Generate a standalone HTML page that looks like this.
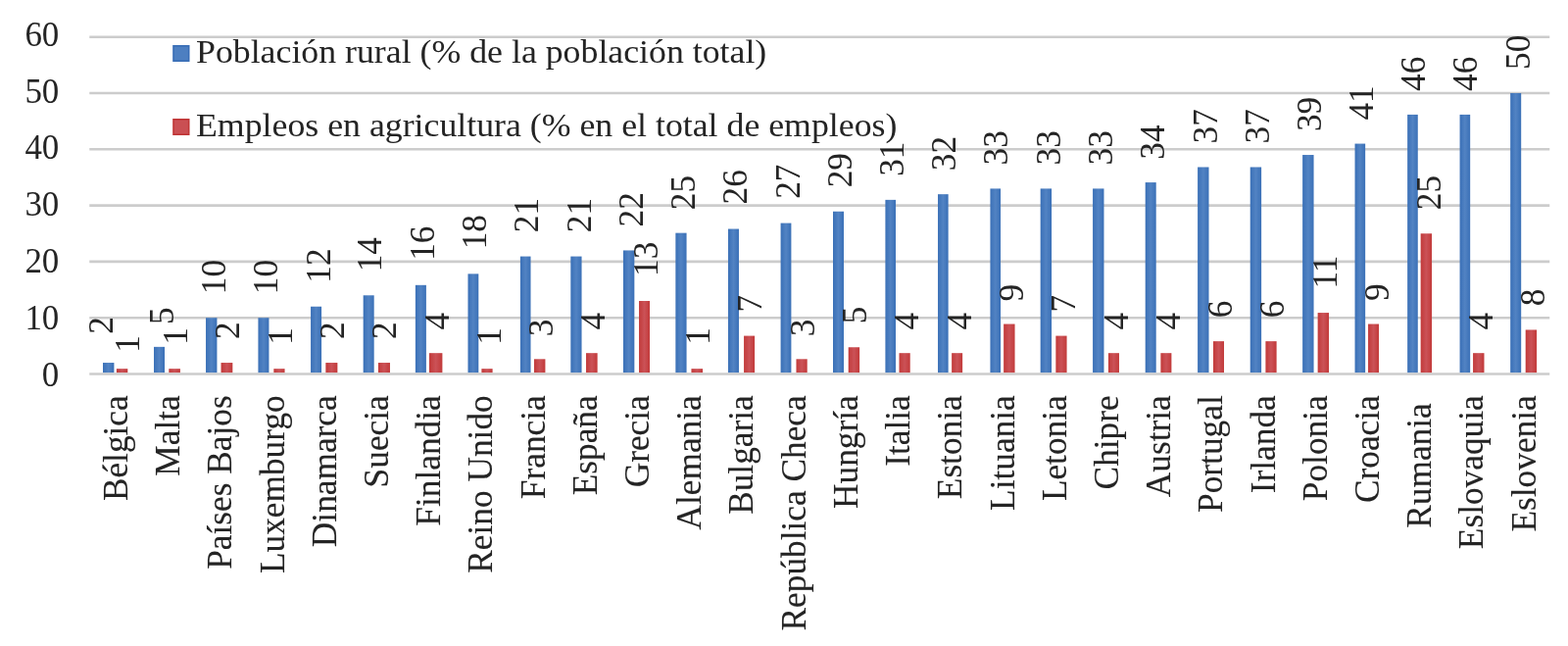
<!DOCTYPE html>
<html lang="es"><head><meta charset="utf-8"><title>Población rural y empleos en agricultura</title>
<style>html,body{margin:0;padding:0;background:#fff}body{width:1600px;height:659px;overflow:hidden}svg{display:block;filter:blur(0.4px)}text{font-family:"Liberation Serif","DejaVu Serif",serif;fill:#242424}</style></head><body>
<svg width="1600" height="659" viewBox="0 0 1600 659">
<defs><linearGradient id="gb" x1="0" y1="0" x2="1" y2="0"><stop offset="0" stop-color="#3a70b7"/><stop offset="0.5" stop-color="#5283c3"/><stop offset="1" stop-color="#3a70b7"/></linearGradient><linearGradient id="gr" x1="0" y1="0" x2="1" y2="0"><stop offset="0" stop-color="#c23a3a"/><stop offset="0.5" stop-color="#cb5257"/><stop offset="1" stop-color="#c23a3a"/></linearGradient></defs>
<rect width="1600" height="659" fill="#fff"/>
<g stroke="#cccccc" stroke-width="2.6">
<line x1="91.25" y1="381.5" x2="1581.25" y2="381.5"/>
<line x1="91.25" y1="324.2" x2="1581.25" y2="324.2"/>
<line x1="91.25" y1="266.9" x2="1581.25" y2="266.9"/>
<line x1="91.25" y1="209.6" x2="1581.25" y2="209.6"/>
<line x1="91.25" y1="152.3" x2="1581.25" y2="152.3"/>
<line x1="91.25" y1="95" x2="1581.25" y2="95"/>
<line x1="91.25" y1="37.7" x2="1581.25" y2="37.7"/>
</g>
<g font-size="34.9" text-anchor="end">
<text x="60.3" y="393.6">0</text>
<text x="60.3" y="335.7">10</text>
<text x="60.3" y="278.4">20</text>
<text x="60.3" y="219.8">30</text>
<text x="60.3" y="162.1">40</text>
<text x="60.3" y="104.6">50</text>
<text x="60.3" y="47">60</text>
</g>
<g fill="url(#gb)">
<rect x="105" y="370.04" width="11.4" height="10.06"/>
<rect x="157.01" y="353.85" width="11" height="26.25"/>
<rect x="210.03" y="324.2" width="11.4" height="55.9"/>
<rect x="263.44" y="324.2" width="11" height="55.9"/>
<rect x="317.06" y="312.74" width="11" height="67.36"/>
<rect x="370.67" y="301.28" width="11" height="78.82"/>
<rect x="423.89" y="290.82" width="11" height="89.28"/>
<rect x="477.5" y="279.36" width="10.8" height="100.74"/>
<rect x="530.91" y="261.57" width="10.6" height="118.53"/>
<rect x="582.33" y="261.57" width="11.2" height="118.53"/>
<rect x="635.94" y="255.44" width="11.4" height="124.66"/>
<rect x="689.36" y="237.65" width="11.2" height="142.45"/>
<rect x="742.97" y="233.52" width="11" height="146.58"/>
<rect x="796.59" y="227.59" width="10.8" height="152.51"/>
<rect x="850" y="215.73" width="11" height="164.37"/>
<rect x="903.41" y="203.87" width="10.6" height="176.23"/>
<rect x="957.03" y="198.14" width="10.6" height="181.96"/>
<rect x="1010.44" y="192.41" width="10.6" height="187.69"/>
<rect x="1061.66" y="192.41" width="11.4" height="187.69"/>
<rect x="1115.07" y="192.41" width="11.4" height="187.69"/>
<rect x="1168.69" y="186.08" width="11" height="194.02"/>
<rect x="1222.1" y="170.49" width="11.4" height="209.61"/>
<rect x="1275.71" y="170.49" width="11.4" height="209.61"/>
<rect x="1329.13" y="158.03" width="11.4" height="222.07"/>
<rect x="1382.54" y="146.57" width="10.6" height="233.53"/>
<rect x="1436.16" y="116.92" width="10.6" height="263.18"/>
<rect x="1489.57" y="116.92" width="10.6" height="263.18"/>
<rect x="1541.19" y="95" width="11" height="285.1"/>
</g>
<g fill="url(#gr)">
<rect x="118.9" y="376.17" width="11.4" height="3.93"/>
<rect x="172.31" y="376.17" width="11.6" height="3.93"/>
<rect x="225.53" y="370.04" width="11.8" height="10.06"/>
<rect x="279.34" y="376.17" width="11.2" height="3.93"/>
<rect x="332.36" y="370.04" width="12" height="10.06"/>
<rect x="385.97" y="370.04" width="12" height="10.06"/>
<rect x="437.99" y="360.18" width="13.4" height="19.92"/>
<rect x="491.4" y="376.17" width="11.2" height="3.93"/>
<rect x="545.01" y="366.31" width="11.4" height="13.79"/>
<rect x="598.03" y="360.18" width="11.6" height="19.92"/>
<rect x="652.04" y="307.01" width="11" height="73.09"/>
<rect x="705.46" y="376.17" width="11.6" height="3.93"/>
<rect x="759.07" y="342.59" width="11" height="37.51"/>
<rect x="812.49" y="366.31" width="11.2" height="13.79"/>
<rect x="865.7" y="354.25" width="11.4" height="25.85"/>
<rect x="917.51" y="360.18" width="11.2" height="19.92"/>
<rect x="971.13" y="360.18" width="11" height="19.92"/>
<rect x="1024.14" y="330.53" width="11.4" height="49.57"/>
<rect x="1077.36" y="342.59" width="11.2" height="37.51"/>
<rect x="1130.97" y="360.18" width="11" height="19.92"/>
<rect x="1184.39" y="360.18" width="11" height="19.92"/>
<rect x="1238" y="348.12" width="11" height="31.98"/>
<rect x="1291.41" y="348.12" width="11.2" height="31.98"/>
<rect x="1344.63" y="319.07" width="11.4" height="61.03"/>
<rect x="1396.04" y="330.53" width="11" height="49.57"/>
<rect x="1449.66" y="238.25" width="11.4" height="141.85"/>
<rect x="1503.07" y="360.18" width="11.4" height="19.92"/>
<rect x="1556.69" y="336.46" width="11.4" height="43.64"/>
</g>
<rect x="177" y="46.8" width="15.7" height="15.4" fill="#4d7fc1" stroke="#386db6" stroke-width="1.6"/>
<rect x="177" y="121.8" width="15.7" height="15.4" fill="#ca4f53" stroke="#c03536" stroke-width="1.6"/>
<text transform="translate(200 64.4) scale(1 0.97)" font-size="35.8">Población rural (% de la población total)</text>
<text transform="translate(200 139.4) scale(1 0.97)" font-size="35.8">Empleos en agricultura (% en el total de empleos)</text>
<g font-size="35.3">
<text transform="translate(114.73 340.84) rotate(-90)">2</text>
<text transform="translate(176.95 331.05) rotate(-90)">5</text>
<text transform="translate(230.16 300.2) rotate(-90)">10</text>
<text transform="translate(283.37 300.2) rotate(-90)">10</text>
<text transform="translate(336.59 288.74) rotate(-90)">12</text>
<text transform="translate(388.8 277.28) rotate(-90)">14</text>
<text transform="translate(443.02 265.82) rotate(-90)">16</text>
<text transform="translate(496.23 254.36) rotate(-90)">18</text>
<text transform="translate(549.45 237.17) rotate(-90)">21</text>
<text transform="translate(602.66 237.17) rotate(-90)">21</text>
<text transform="translate(655.87 231.44) rotate(-90)">22</text>
<text transform="translate(709.09 214.25) rotate(-90)">25</text>
<text transform="translate(762.3 208.52) rotate(-90)">26</text>
<text transform="translate(815.52 202.79) rotate(-90)">27</text>
<text transform="translate(868.73 191.33) rotate(-90)">29</text>
<text transform="translate(921.95 179.87) rotate(-90)">31</text>
<text transform="translate(975.16 174.14) rotate(-90)">32</text>
<text transform="translate(1028.37 168.41) rotate(-90)">33</text>
<text transform="translate(1081.59 168.41) rotate(-90)">33</text>
<text transform="translate(1134.8 168.41) rotate(-90)">33</text>
<text transform="translate(1188.02 162.68) rotate(-90)">34</text>
<text transform="translate(1242.23 146.49) rotate(-90)">37</text>
<text transform="translate(1295.45 146.49) rotate(-90)">37</text>
<text transform="translate(1347.66 134.03) rotate(-90)">39</text>
<text transform="translate(1400.87 122.57) rotate(-90)">41</text>
<text transform="translate(1454.09 92.92) rotate(-90)">46</text>
<text transform="translate(1507.3 92.92) rotate(-90)">46</text>
<text transform="translate(1560.52 71) rotate(-90)">50</text>
<text transform="translate(141.63 359.77) rotate(-90)">1</text>
<text transform="translate(190.95 351.77) rotate(-90)">1</text>
<text transform="translate(244.26 346.04) rotate(-90)">2</text>
<text transform="translate(297.57 351.77) rotate(-90)">1</text>
<text transform="translate(350.89 346.04) rotate(-90)">2</text>
<text transform="translate(404.2 346.04) rotate(-90)">2</text>
<text transform="translate(457.52 336.58) rotate(-90)">4</text>
<text transform="translate(510.83 351.77) rotate(-90)">1</text>
<text transform="translate(564.15 343.31) rotate(-90)">3</text>
<text transform="translate(617.46 336.58) rotate(-90)">4</text>
<text transform="translate(670.77 282.01) rotate(-90)">13</text>
<text transform="translate(724.09 351.77) rotate(-90)">1</text>
<text transform="translate(777.4 318.39) rotate(-90)">7</text>
<text transform="translate(830.72 343.31) rotate(-90)">3</text>
<text transform="translate(884.03 330.35) rotate(-90)">5</text>
<text transform="translate(937.35 336.58) rotate(-90)">4</text>
<text transform="translate(990.66 336.58) rotate(-90)">4</text>
<text transform="translate(1043.97 307.43) rotate(-90)">9</text>
<text transform="translate(1097.29 318.59) rotate(-90)">7</text>
<text transform="translate(1150.6 336.58) rotate(-90)">4</text>
<text transform="translate(1203.92 336.58) rotate(-90)">4</text>
<text transform="translate(1257.13 324.32) rotate(-90)">6</text>
<text transform="translate(1310.35 324.32) rotate(-90)">6</text>
<text transform="translate(1363.56 294.47) rotate(-90)">11</text>
<text transform="translate(1416.77 306.93) rotate(-90)">9</text>
<text transform="translate(1469.99 214.25) rotate(-90)">25</text>
<text transform="translate(1523.2 336.58) rotate(-90)">4</text>
<text transform="translate(1576.42 312.16) rotate(-90)">8</text>
</g>
<g font-size="35.3" text-anchor="end" stroke="#242424" stroke-width="0.12">
<text transform="translate(129.86 403.3) rotate(-90)">Bélgica</text>
<text transform="translate(183.07 403.3) rotate(-90)">Malta</text>
<text transform="translate(236.29 403.3) rotate(-90)">Países Bajos</text>
<text transform="translate(289.5 403.3) rotate(-90)">Luxemburgo</text>
<text transform="translate(342.71 403.3) rotate(-90)">Dinamarca</text>
<text transform="translate(395.93 403.3) rotate(-90)">Suecia</text>
<text transform="translate(449.14 403.3) rotate(-90)">Finlandia</text>
<text transform="translate(502.36 403.3) rotate(-90)">Reino Unido</text>
<text transform="translate(555.57 403.3) rotate(-90)">Francia</text>
<text transform="translate(608.79 403.3) rotate(-90)">España</text>
<text transform="translate(662 403.3) rotate(-90)">Grecia</text>
<text transform="translate(715.21 403.3) rotate(-90)">Alemania</text>
<text transform="translate(768.43 403.3) rotate(-90)">Bulgaria</text>
<text transform="translate(821.64 403.3) rotate(-90)">República Checa</text>
<text transform="translate(874.86 403.3) rotate(-90)">Hungría</text>
<text transform="translate(928.07 403.3) rotate(-90)">Italia</text>
<text transform="translate(981.29 403.3) rotate(-90)">Estonia</text>
<text transform="translate(1034.5 403.3) rotate(-90)">Lituania</text>
<text transform="translate(1087.71 403.3) rotate(-90)">Letonia</text>
<text transform="translate(1140.93 403.3) rotate(-90)">Chipre</text>
<text transform="translate(1194.14 403.3) rotate(-90)">Austria</text>
<text transform="translate(1247.36 403.3) rotate(-90)">Portugal</text>
<text transform="translate(1300.57 403.3) rotate(-90)">Irlanda</text>
<text transform="translate(1353.79 403.3) rotate(-90)">Polonia</text>
<text transform="translate(1407 403.3) rotate(-90)">Croacia</text>
<text transform="translate(1460.21 411.3) rotate(-90)">Rumania</text>
<text transform="translate(1513.43 403.3) rotate(-90)">Eslovaquia</text>
<text transform="translate(1566.64 403.3) rotate(-90)">Eslovenia</text>
</g>
</svg></body></html>
